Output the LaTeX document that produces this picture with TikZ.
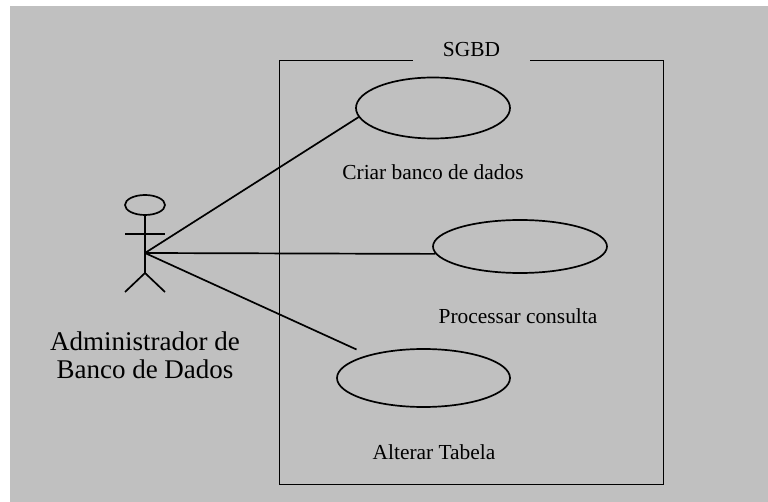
\documentclass[tikz,border=0pt]{standalone}
\usepackage{fontspec}
\setmainfont{Liberation Serif}
\usetikzlibrary{shapes.geometric,positioning}
\tikzset{
  usecase/.style={draw, ellipse, line width=1.7pt, inner sep=0pt},
  caption/.style={font=\fontsize{21.4}{25}\selectfont, inner sep=0pt},
  link/.style={line width=1.7pt},
  limb/.style={line width=1.7pt}
}
\definecolor{panel}{HTML}{C0C0C0}

\begin{document}
\begin{tikzpicture}[x=1pt, y=-1pt]
  \useasboundingbox (0,0) rectangle (768,502);
  \fill[panel] (10,6) rectangle (768,502);

  \node[draw, line width=1pt, minimum width=384pt, minimum height=423pt, inner sep=0pt] (sgbd) at (471,272.5) {};
  \node[caption, fill=panel, minimum width=117pt, minimum height=24pt] (sgbdlabel) at (471.5,49.5) {SGBD};

  \node[usecase, minimum width=154pt, minimum height=61pt] (uc1) at (433,108) {};
  \node[usecase, minimum width=174pt, minimum height=53pt] (uc2) at (520,246.5) {};
  \node[usecase, minimum width=173pt, minimum height=58pt] (uc3) at (423.5,378) {};

  \node[caption] (t1) at (433,172) {Criar banco de dados};
  \node[caption] (t2) at (518,316) {Processar consulta};
  \node[caption] (t3) at (434,452) {Alterar Tabela};

  % actor
  \node[draw, ellipse, limb, minimum width=40pt, minimum height=20pt, inner sep=0pt] (head) at (145,205) {};
  \coordinate (hand) at (145,253);
  \coordinate (hip) at (145,273);
  \coordinate (armL) at (125,234);
  \coordinate (armR) at (165,234);
  \coordinate (footL) at (125,292);
  \coordinate (footR) at (165,292);
  \coordinate (uc3end) at (356.5,349.5);
  \draw[limb] (head.south) -- (hip);
  \draw[limb] (armL) -- (armR);
  \draw[limb] (footL) -- (hip) -- (footR);
  \node[font=\fontsize{27}{28}\selectfont, align=center, inner sep=0pt] (actor) at (145,355) {Administrador de\\Banco de Dados};

  \draw[link] (hand) -- (uc1.187);
  \draw[link] (hand) -- (uc2.185);
  \draw[link] (hand) -- (uc3end);
\end{tikzpicture}
\end{document}
